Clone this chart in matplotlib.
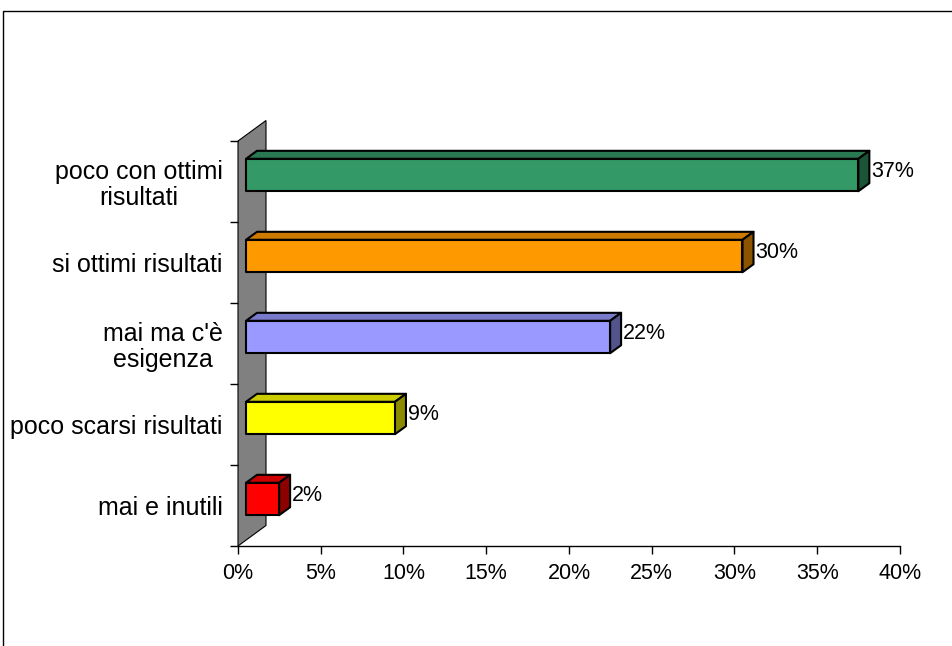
import matplotlib.pyplot as plt
import matplotlib.colors as mcolors
from matplotlib.patches import Polygon
from matplotlib.lines import Line2D

# bottom to top
categories = ['mai e inutili', 'poco scarsi risultati', "mai ma c'è\nesigenza",
              'si ottimi risultati', 'poco con ottimi\nrisultati']
values = [2, 9, 22, 30, 37]
colors = ['#FF0000', '#FFFF00', '#9999FF', '#FF9900', '#339966']
ticks = [0, 5, 10, 15, 20, 25, 30, 35, 40]
tick_labels = ['0%', '5%', '10%', '15%', '20%', '25%', '30%', '35%', '40%']

plt.rcParams['font.family'] = ['Liberation Sans', 'DejaVu Sans']

W, H = 953, 646
fig = plt.figure(figsize=(W / 100, H / 100), dpi=100)

# plot area in pixels
left, right, bottom, top = 238, 900, 546, 141
ax = fig.add_axes([left / W, 1 - bottom / H, (right - left) / W, (bottom - top) / H])
ax.set_xlim(0, 40)
ax.set_ylim(0, 5)
px = 40 / (right - left)
py = 5 / (bottom - top)

for s in ['top', 'right', 'left']:
    ax.spines[s].set_visible(False)
ax.spines['bottom'].set_linewidth(1)

ax.set_xticks(ticks)
ax.set_xticklabels(tick_labels, fontsize=15.5)
ax.tick_params(axis='x', length=6, width=1, pad=6)

ax.set_yticks(range(6))
ax.set_yticklabels([])
ax.set_yticks([i + 0.5 for i in range(5)], minor=True)
ax.set_yticklabels(categories, minor=True, fontsize=18, multialignment='center',
                   linespacing=1.12)
ax.tick_params(axis='y', which='major', length=6, width=1)
ax.tick_params(axis='y', which='minor', length=0, pad=11)

# side wall
wdx, wdy = 28 * px, 20.5 * py
wall = Polygon([(0, 0), (wdx, wdy), (wdx, 5 + wdy), (0, 5)], closed=True,
               facecolor='#808080', edgecolor='black', lw=0.8, clip_on=False, zorder=1)
ax.add_patch(wall)

# 3D bars
bx = 8 * px
bdx, bdy = 11 * px, 8 * py


def shade(c, f):
    r, g, b = mcolors.to_rgb(c)
    return (r * f, g * f, b * f)


for i, (v, c) in enumerate(zip(values, colors)):
    lo, hi = i + 0.38, i + 0.78
    xl, xr = bx, v + bx
    front = [(xl, lo), (xr, lo), (xr, hi), (xl, hi)]
    topf = [(xl, hi), (xr, hi), (xr + bdx, hi + bdy), (xl + bdx, hi + bdy)]
    side = [(xr, lo), (xr + bdx, lo + bdy), (xr + bdx, hi + bdy), (xr, hi)]
    for pts, fc in [(topf, shade(c, 0.8)), (side, shade(c, 0.55)), (front, c)]:
        ax.add_patch(Polygon(pts, closed=True, facecolor=fc, edgecolor='black',
                             lw=1.5, joinstyle='round', clip_on=False, zorder=3))
    ax.text(xr + 13 * px, (lo + hi) / 2 + bdy / 2, f'{v}%', fontsize=15.5,
            ha='left', va='center', zorder=4)

# chart frame
fig.add_artist(Line2D([3.5 / W, 3.5 / W, 1], [0, 1 - 10.5 / H, 1 - 10.5 / H],
                      transform=fig.transFigure, color='black', lw=1))

fig.savefig('out.png', dpi=100)
